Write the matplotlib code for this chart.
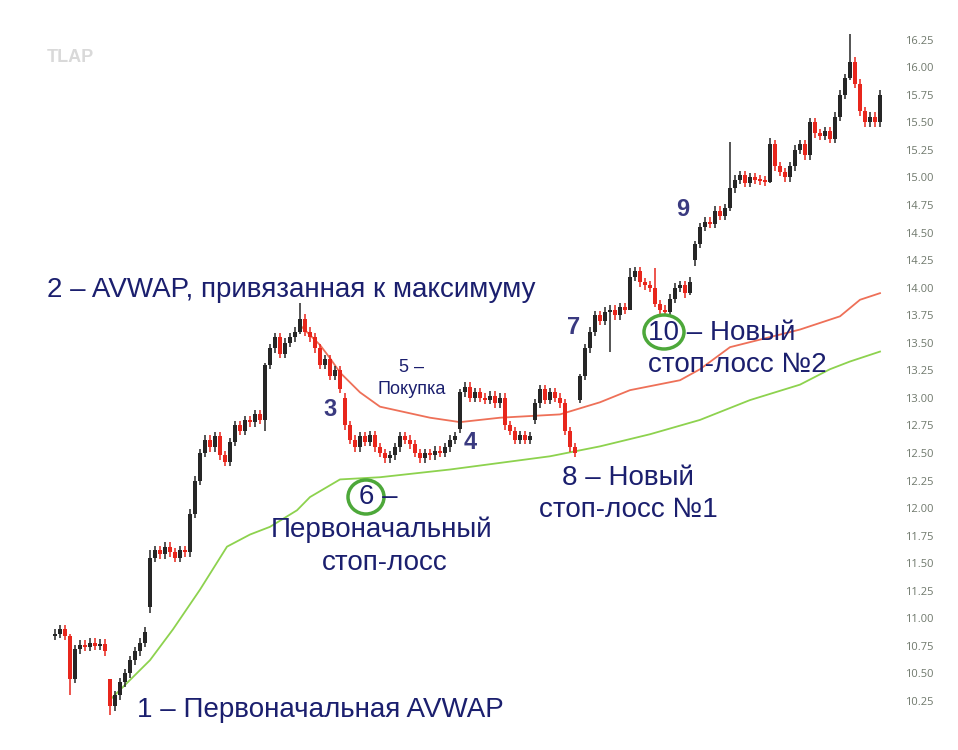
import numpy as np
import matplotlib
matplotlib.use('Agg')
import matplotlib.pyplot as plt
from matplotlib.patches import Ellipse

plt.rcParams['font.family'] = ['Liberation Sans', 'DejaVu Sans']

# Closing prices, one candle per slot
closes = [
    10.86, 10.90, 10.84, 10.45, 10.72, 10.76, 10.74, 10.78, 10.75, 10.77,
    10.70, 10.20, 10.30, 10.42, 10.50, 10.62, 10.70, 10.78, 10.88, 11.55,
    11.62, 11.58, 11.65, 11.60, 11.55, 11.62, 11.60, 11.95, 12.25, 12.50,
    12.62, 12.55, 12.65, 12.48, 12.42, 12.60, 12.75, 12.70, 12.80, 12.78,
    12.85, 12.80, 13.30, 13.45, 13.55, 13.40, 13.50, 13.55, 13.60, 13.72,
    13.60, 13.55, 13.45, 13.30, 13.35, 13.20, 13.25, 13.08, 12.75, 12.62,
    12.55, 12.65, 12.60, 12.66, 12.55, 12.50, 12.45, 12.48, 12.55, 12.65,
    12.62, 12.58, 12.50, 12.45, 12.50, 12.48, 12.52, 12.50, 12.55, 12.62,
    12.65, 13.05, 13.10, 13.00, 13.05, 13.00, 12.98, 13.02, 12.95, 13.00,
    12.75, 12.70, 12.62, 12.66, 12.62, 12.65, 12.95, 13.08, 12.98, 13.05,
    13.00, 12.95, 12.70, 12.55, 12.50, 13.20, 13.45, 13.60, 13.75, 13.70,
    13.78, 13.80, 13.75, 13.82, 13.80, 14.10, 14.15, 14.05, 14.02, 14.00,
    13.85, 13.80, 13.78, 13.90, 14.00, 14.02, 13.95, 14.05, 14.40, 14.55,
    14.60, 14.58, 14.70, 14.65, 14.72, 14.90, 14.98, 15.02, 14.95, 15.00,
    14.98, 14.97, 14.96, 15.30, 15.10, 15.05, 15.00, 15.10, 15.25, 15.30,
    15.20, 15.50, 15.40, 15.38, 15.42, 15.35, 15.55, 15.75, 15.90, 16.05,
    15.85, 15.60, 15.50, 15.55, 15.50, 15.75,
]
first_open = 10.84
# candles that open with a gap: index -> open
gap_opens = {11: 10.45, 19: 11.10, 58: 13.00, 81: 12.72, 96: 12.80,
             105: 12.98, 128: 14.25}
# long wicks: index -> (high, low)
long_wicks = {3: (10.86, 10.30), 11: (10.45, 10.12), 19: (11.62, 11.05),
              42: (13.32, 12.70), 49: (13.86, 13.58), 81: (13.08, 12.68),
              105: (13.22, 12.95), 111: (13.84, 13.42), 115: (14.18, 13.80),
              120: (14.18, 13.82), 127: (14.10, 13.93), 128: (14.42, 14.20),
              135: (15.32, 14.70), 143: (15.36, 14.95), 159: (16.30, 15.88)}

# anchored VWAP lines (candle index, price)
green_idx = [11, 19, 23.6, 29, 34.4, 39, 43, 48.4, 51, 57, 65, 79, 99,
             109, 119, 129, 139, 149, 155, 159, 165]
green_val = [10.26, 10.62, 10.90, 11.26, 11.65, 11.76, 11.83, 11.98, 12.10,
             12.26, 12.28, 12.35, 12.47, 12.56, 12.67, 12.80, 12.98, 13.12,
             13.26, 13.33, 13.42]
red_idx = [49, 51, 53, 55, 57, 61, 65, 75, 81, 89, 101, 109, 115, 125,
           129, 135, 149, 157, 161, 165]
red_val = [13.66, 13.57, 13.48, 13.36, 13.23, 13.05, 12.92, 12.82, 12.78,
           12.82, 12.85, 12.96, 13.07, 13.16, 13.26, 13.46, 13.62, 13.74,
           13.89, 13.95]

W, H = 958, 750
fig = plt.figure(figsize=(W / 100, H / 100), dpi=100)
ax = fig.add_axes([0, 0, 890 / W, 1])
ax.set_xlim(-11, 167)
ax.set_ylim(9.805, 16.61)

ax.plot(green_idx, green_val, color='#8dd24e', lw=1.3, zorder=1)
ax.plot(red_idx, red_val, color='#ee7058', lw=1.3, zorder=1)

# candles
opens = []
prev = first_open
for i, c in enumerate(closes):
    o = gap_opens.get(i, prev)
    opens.append(o)
    prev = c
for i, (o, c) in enumerate(zip(opens, closes)):
    col = '#262626' if c >= o else '#e8261c'
    hi, lo = long_wicks.get(i, (max(o, c) + 0.04, min(o, c) - 0.04))
    ax.vlines(i, lo, hi, color=col, lw=1.1, zorder=2)
    body = max(abs(c - o), 0.02)
    ax.bar(i, body, bottom=min(o, c), width=0.85, color=col, zorder=3)

for s in ax.spines.values():
    s.set_visible(False)
ax.set_xticks([])
ax.yaxis.tick_right()
ax.set_yticks(np.arange(10.25, 16.26, 0.25))
ax.set_yticklabels(['%.2f' % v for v in np.arange(10.25, 16.26, 0.25)])
ax.tick_params(axis='y', length=0, pad=11, labelsize=8, labelcolor='#6f786c')
for lab in ax.get_yticklabels():
    lab.set_family('Open Sans')


def px(x, y):
    return x / W, 1 - y / H


navy = '#1b1f6e'
num_col = '#3a3a80'
big = 20

fig.text(*px(47, 58), 'TLAP', color='#d9d9d9', fontsize=13, fontweight='bold',
         va='center')
fig.text(*px(47, 290), '2 – AVWAP, привязанная к максимуму', color=navy,
         fontsize=big, va='center')
fig.text(*px(137, 710), '1 – Первоначальная AVWAP', color=navy,
         fontsize=big, va='center')
fig.text(*px(412, 368), '5 –', color=navy, fontsize=13, ha='center', va='center')
fig.text(*px(412, 390), 'Покупка', color=navy, fontsize=13, ha='center',
         va='center')
for lbl, x, y in [('3', 330, 410), ('4', 470, 442), ('7', 574, 328),
                  ('9', 683, 210)]:
    fig.text(*px(x, y), lbl, color=num_col, fontsize=17, fontweight='bold',
             ha='center', va='center')

fig.text(*px(378, 497), '6 –', color=navy, fontsize=big, ha='center',
         va='center')
fig.text(*px(382, 530), 'Первоначальный', color=navy, fontsize=big,
         ha='center', va='center')
fig.text(*px(385, 563), 'стоп-лосс', color=navy, fontsize=big, ha='center',
         va='center')
fig.text(*px(628, 478), '8 – Новый', color=navy, fontsize=big, ha='center',
         va='center')
fig.text(*px(628, 510), 'стоп-лосс №1', color=navy, fontsize=big, ha='center',
         va='center')
fig.text(*px(648, 333), '10 – Новый', color=navy, fontsize=big, ha='left',
         va='center')
fig.text(*px(648, 365), 'стоп-лосс №2', color=navy, fontsize=big, ha='left',
         va='center')

for cx, cy, ew, eh in [(366, 497, 36, 34), (664, 332, 40, 34)]:
    fig.add_artist(Ellipse(px(cx, cy), ew / W, eh / H, transform=fig.transFigure,
                           fill=False, ec='#4da83a', lw=2.5))

fig.savefig('out.png', dpi=100, facecolor='white')
